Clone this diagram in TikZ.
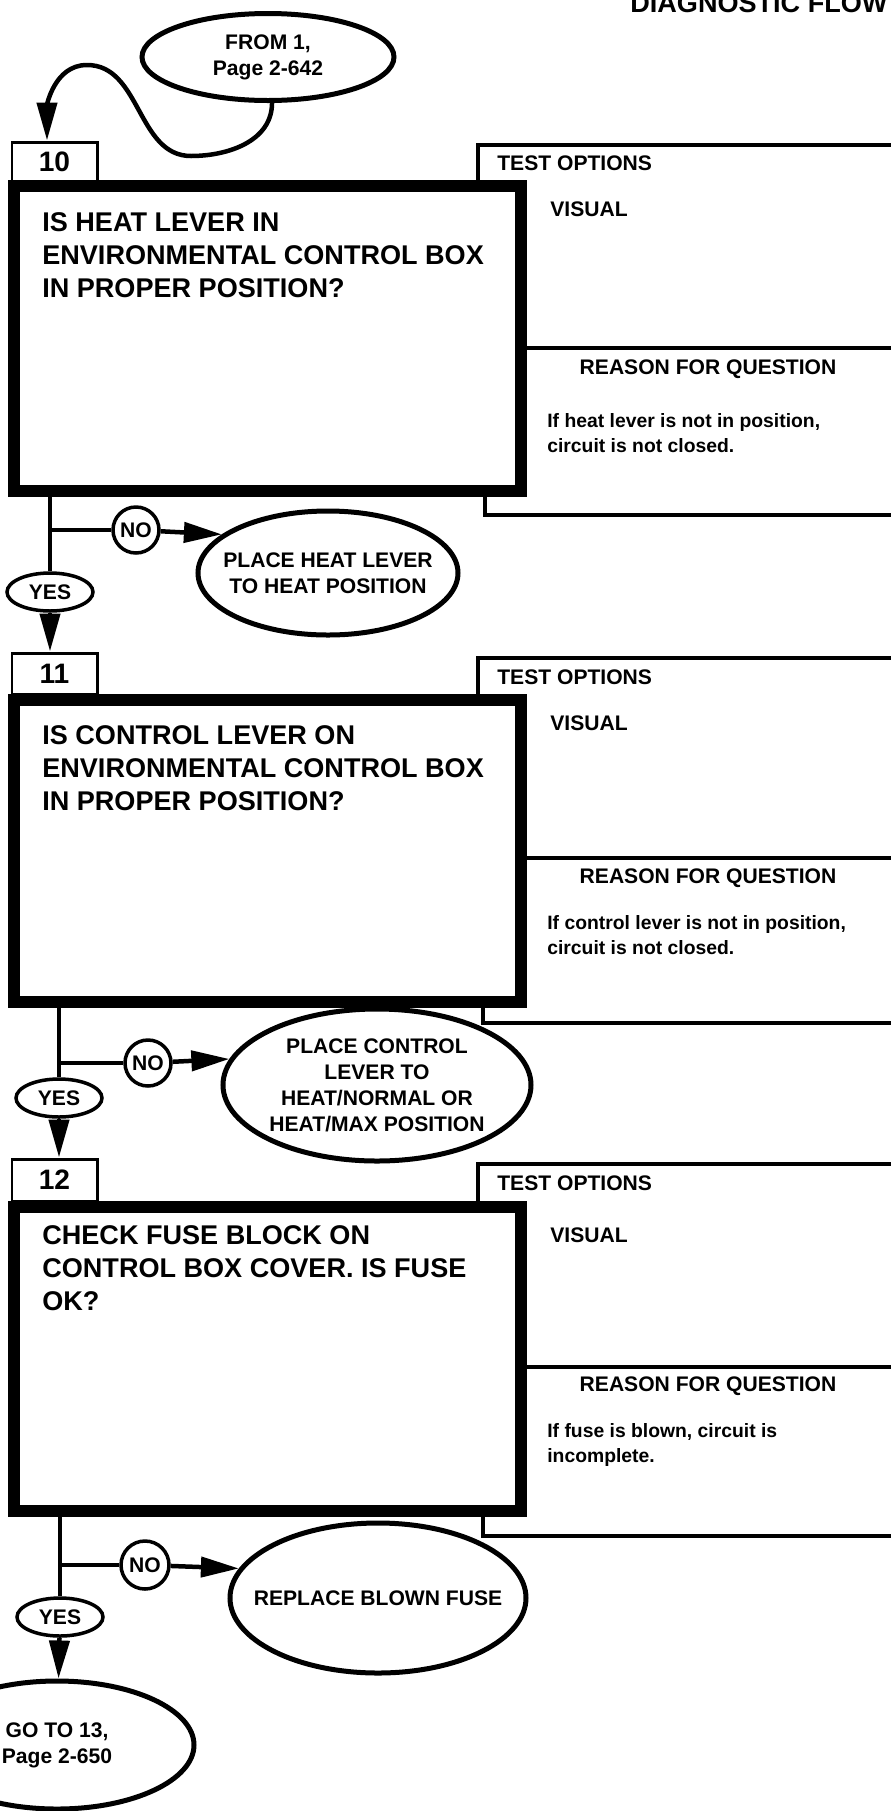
\documentclass[tikz,border=0pt]{standalone}
\usepackage{fontspec}
\setmainfont{Liberation Sans}
\usetikzlibrary{arrows.meta, positioning, shapes.geometric}

\begin{document}
\begin{tikzpicture}[
  font=\bfseries,
  stepbox/.style={draw, line width=0.06cm, fill=white, minimum width=1.7cm, inner sep=0pt, font=\fontsize{16}{18}\selectfont\bfseries},
  qbox/.style={draw, line width=0.24cm, fill=white, minimum width=10.14cm},
  panel/.style={draw, line width=0.08cm},
  qtext/.style={anchor=north west, align=left, inner sep=0pt, font=\fontsize{15.4}{18.8}\selectfont\bfseries},
  head/.style={inner sep=0pt, font=\fontsize{12}{14}\selectfont\bfseries},
  why/.style={anchor=north west, align=left, inner sep=0pt, font=\fontsize{11}{14.2}\selectfont\bfseries},
  oval/.style={ellipse, draw, line width=0.1cm, fill=white, inner sep=0pt},
  ovaltext/.style={align=center, inner sep=0pt, font=\fontsize{12}{14.8}\selectfont\bfseries},
  yesno/.style={ellipse, draw, line width=0.07cm, fill=white, inner sep=0pt, font=\fontsize{12}{14}\selectfont\bfseries},
  wire/.style={line width=0.09cm},
  arr/.style={-{Triangle[length=0.76cm, width=0.4cm]}, line width=0.09cm}
]

% page: 891 x 1811 px, 1 px = 0.02 cm
\useasboundingbox (0,0) rectangle (17.82,-36.22);
\clip (0,0) rectangle (17.82,-36.22);

% page heading, cut off at the top edge
\node[anchor=base west, inner sep=0pt, font=\fontsize{15.4}{18}\selectfont\bfseries] (title) at (12.6,-0.24) {DIAGNOSTIC FLOW};

% Entry
\node[oval, minimum width=5.04cm, minimum height=1.74cm] (from) at (5.36,-1.14) {};
\node[ovaltext] (fromt) at (from) {FROM 1,\\Page 2-642};

% Step 10
\node[panel, minimum width=8.84cm, minimum height=4.06cm] (opt10) at (13.98,-4.93) {};
\node[panel, minimum width=8.7cm, minimum height=3.34cm] (rsn10) at (14.05,-8.63) {};
\node[stepbox, minimum height=0.78cm] (step10) at (1.09,-3.23) {10};
\node[qbox, minimum height=6.1cm] (main10) at (5.35,-6.77) {};
\node[qtext] (q10) at (0.84,-4.25) {IS HEAT LEVER IN\\ENVIRONMENTAL CONTROL BOX\\IN PROPER POSITION?};
\node[head, anchor=west] (opth10) at (9.94,-3.26) {TEST OPTIONS};
\node[head, anchor=west] (vis10) at (11.0,-4.18) {VISUAL};
\node[head] (rsnh10) at (14.16,-7.38) {REASON FOR QUESTION};
\node[why] (why10) at (10.94,-8.26) {If heat lever is not in position,\\circuit is not closed.};

\draw[arr] (from.275) to[out=-90,in=0] (3.82,-3.12) to[out=180,in=0] (1.74,-1.3) to[out=180,in=90] ([xshift=-0.15cm]step10.north);

\node[yesno, minimum width=1.72cm, minimum height=0.76cm] (yes1) at (1.0,-11.84) {YES};
\node[yesno, minimum width=0.92cm, minimum height=0.92cm] (no1) at (2.72,-10.6) {NO};
\node[oval, minimum width=5.2cm, minimum height=2.48cm] (place1) at (6.56,-11.46) {};
\node[ovaltext] (place1t) at (place1) {PLACE HEAT LEVER\\TO HEAT POSITION};

\draw[wire] (main10.south -| yes1.north) -- (yes1.north);
\draw[wire] (no1.west -| yes1.north) -- (no1.west);
\draw[arr] (no1) -- (place1.160);

% Step 11
\node[panel, minimum width=8.84cm, minimum height=4.0cm] (opt11) at (13.98,-15.16) {};
\node[panel, minimum width=8.74cm, minimum height=3.3cm] (rsn11) at (14.03,-18.81) {};
\node[stepbox, minimum height=0.82cm] (step11) at (1.09,-13.47) {11};
\node[qbox, minimum height=6.04cm] (main11) at (5.35,-17.02) {};
\node[qtext] (q11) at (0.84,-14.5) {IS CONTROL LEVER ON\\ENVIRONMENTAL CONTROL BOX\\IN PROPER POSITION?};
\node[head, anchor=west] (opth11) at (9.94,-13.54) {TEST OPTIONS};
\node[head, anchor=west] (vis11) at (11.0,-14.46) {VISUAL};
\node[head] (rsnh11) at (14.16,-17.56) {REASON FOR QUESTION};
\node[why] (why11) at (10.94,-18.3) {If control lever is not in position,\\circuit is not closed.};

\draw[arr] (yes1) -- (yes1 |- step11.north);

\node[yesno, minimum width=1.72cm, minimum height=0.76cm] (yes2) at (1.18,-21.96) {YES};
\node[yesno, minimum width=0.92cm, minimum height=0.92cm] (no2) at (2.96,-21.26) {NO};
\node[oval, minimum width=6.16cm, minimum height=3.04cm] (place2) at (7.54,-21.7) {};
\node[ovaltext] (place2t) at (place2) {PLACE CONTROL\\LEVER TO\\HEAT/NORMAL OR\\HEAT/MAX POSITION};

\draw[wire] (main11.south -| yes2.north) -- (yes2.north);
\draw[wire] (no2.west -| yes2.north) -- (no2.west);
\draw[arr] (no2) -- (place2.170);

% Step 12
\node[panel, minimum width=8.84cm, minimum height=4.06cm] (opt12) at (13.98,-25.31) {};
\node[panel, minimum width=8.74cm, minimum height=3.38cm] (rsn12) at (14.03,-29.03) {};
\node[stepbox, minimum height=0.84cm] (step12) at (1.09,-23.6) {12};
\node[qbox, minimum height=6.08cm] (main12) at (5.35,-27.18) {};
\node[qtext] (q12) at (0.84,-24.5) {CHECK FUSE BLOCK ON\\CONTROL BOX COVER. IS FUSE\\OK?};
\node[head, anchor=west] (opth12) at (9.94,-23.66) {TEST OPTIONS};
\node[head, anchor=west] (vis12) at (11.0,-24.7) {VISUAL};
\node[head] (rsnh12) at (14.16,-27.72) {REASON FOR QUESTION};
\node[why] (why12) at (10.94,-28.46) {If fuse is blown, circuit is\\incomplete.};

\draw[arr] (yes2) -- (yes2 |- step12.north);

\node[yesno, minimum width=1.72cm, minimum height=0.76cm] (yes3) at (1.2,-32.34) {YES};
\node[yesno, minimum width=0.96cm, minimum height=0.96cm] (no3) at (2.9,-31.3) {NO};
\node[oval, minimum width=5.92cm, minimum height=3.0cm] (replace) at (7.56,-31.96) {};
\node[ovaltext] (replacet) at (replace) {REPLACE BLOWN FUSE};
\node[oval, minimum width=5.48cm, minimum height=2.56cm] (goto) at (1.14,-34.9) {};
\node[ovaltext] (gotot) at (goto) {GO TO 13,\\Page 2-650};

\draw[wire] (main12.south -| yes3.north) -- (yes3.north);
\draw[wire] (no3.west -| yes3.north) -- (no3.west);
\draw[arr] (no3) -- (replace.168);
\draw[arr] (yes3) -- (goto);

\end{tikzpicture}
\end{document}
